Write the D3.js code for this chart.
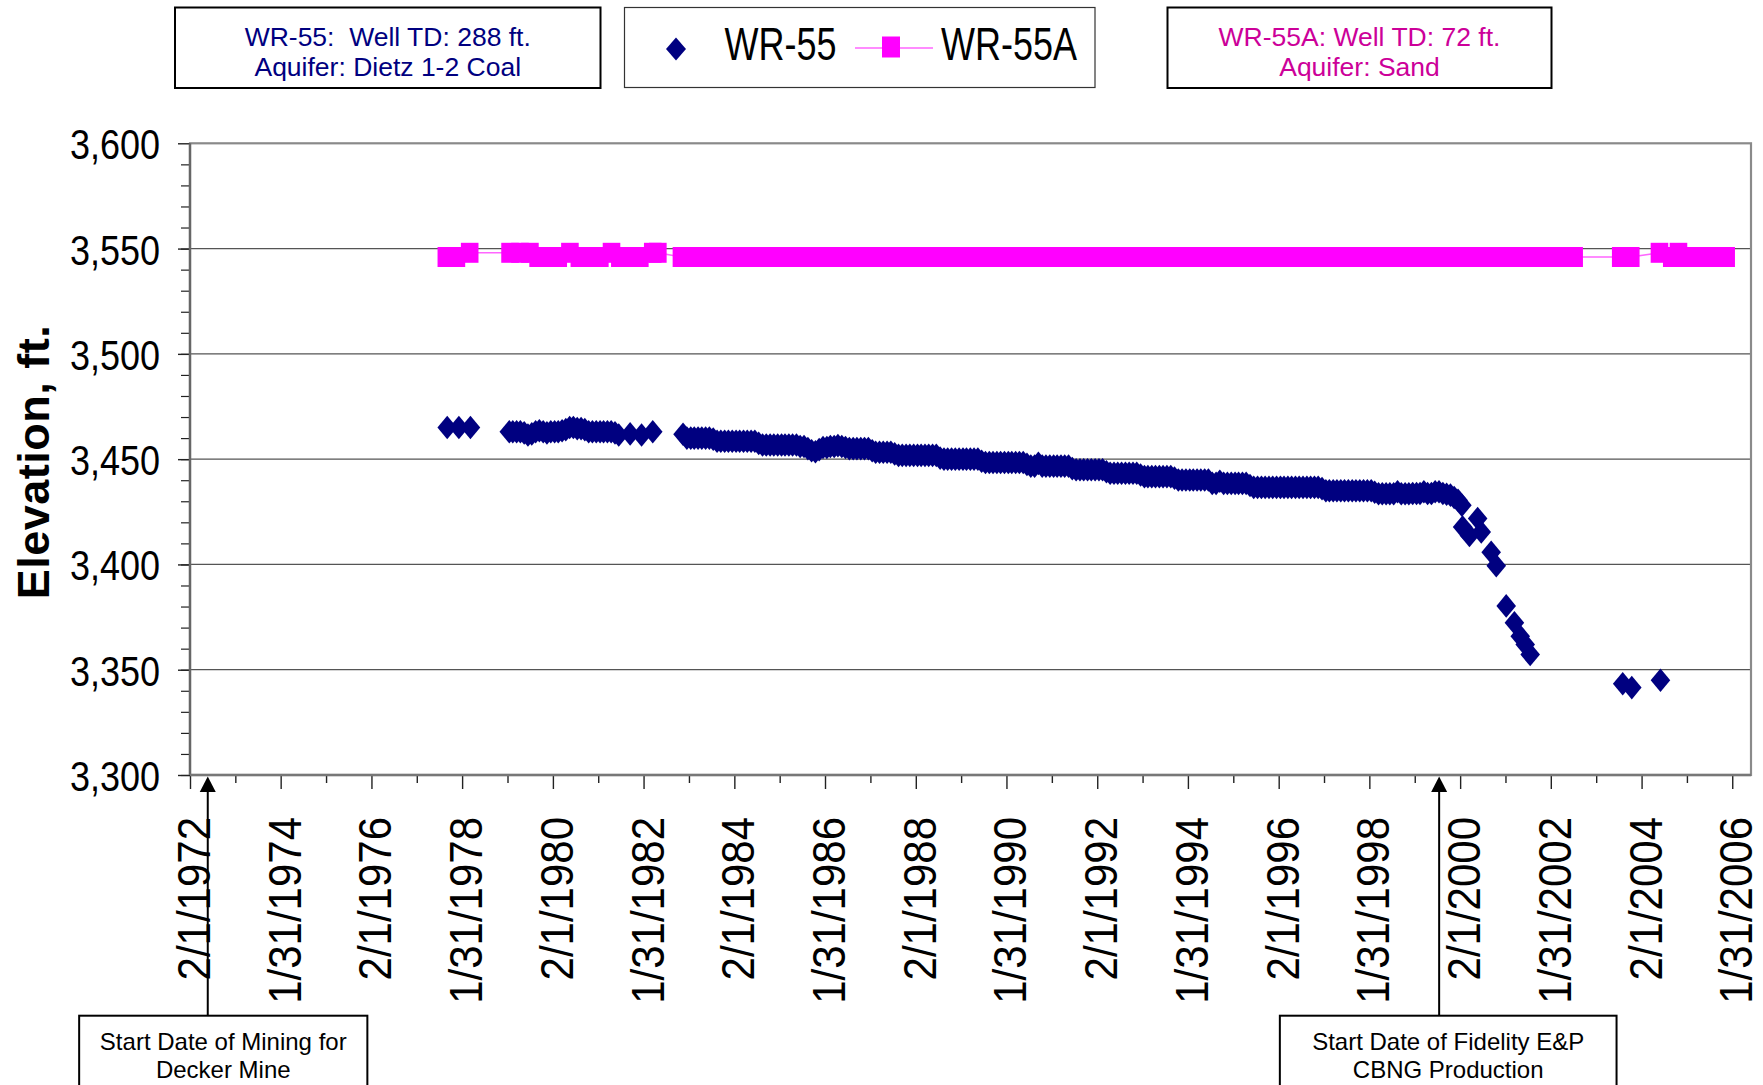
<!DOCTYPE html>
<html>
<head>
<meta charset="utf-8">
<script src="https://cdn.jsdelivr.net/npm/d3@7"></script>
<style>
  body { margin: 0; background: #fff; }
  svg { display: block; font-family: "Liberation Sans", Arial, sans-serif; }
</style>
</head>
<body>
<div id="well-chart"></div>
<script>
// date axis: Excel bounds and major tick labels (730.5 day steps)
var dateBounds = ["2/1/1972", "7/1/2006"];
var dateTickLabels = ["2/1/1972", "1/31/1974", "2/1/1976", "1/31/1978", "2/1/1980", "1/31/1982",
    "2/1/1984", "1/31/1986", "2/1/1988", "1/31/1990", "2/1/1992", "1/31/1994",
    "2/1/1996", "1/31/1998", "2/1/2000", "1/31/2002", "2/1/2004", "1/31/2006"];

// elevation axis
var elevTicks = [3300, 3350, 3400, 3450, 3500, 3550, 3600];
var elevBounds = [3300, 3600];

var seriesNames = ["WR-55", "WR-55A"];

// WR-55 monthly readings, Jan..Dec (null = no reading)
var wr55Monthly = [
    [1979, [null, 3463, 3463, 3463, 3463, 3462.5, 3461.5, 3462, 3463, 3463.5, 3463, 3462.5]],
    [1980, [3463, 3463, 3463, 3463.5, 3464, 3465, 3465, 3464.5, 3464.5, 3464, 3463, 3463]],
    [1981, [3463, 3463, 3463, 3463, 3463, 3462.5, 3461.5, null, null, 3462, null, null]],
    [1982, [3461.5, null, null, 3463, null, null, null, null, null, null, null, 3461.8]],
    [1983, [3460, 3460, 3460, 3460, 3460, 3460, 3460, 3459.5, 3458.5, 3458.5, 3458.5, 3458.5]],
    [1984, [3458.5, 3458.5, 3458.5, 3458.5, 3458.5, 3458.5, 3458.5, 3457.5, 3456.7, 3456.7, 3456.7, 3456.7]],
    [1985, [3456.7, 3456.7, 3456.7, 3456.7, 3456.7, 3456.7, 3456, 3456, 3455, 3454, 3453.5, 3454.5]],
    [1986, [3455.5, 3455.5, 3456, 3456, 3456.4, 3456, 3455.5, 3455, 3455, 3455, 3455, 3455]],
    [1987, [3455, 3454, 3453.3, 3453.3, 3453.3, 3453.3, 3453.3, 3452.5, 3451.8, 3451.8, 3451.8, 3451.8]],
    [1988, [3451.8, 3451.8, 3451.8, 3451.8, 3451.8, 3451.8, 3451.8, 3450.5, 3450, 3450, 3450, 3450]],
    [1989, [3450, 3450, 3450, 3450, 3450, 3450, 3449, 3448.4, 3448.4, 3448.4, 3448.4, 3448.4]],
    [1990, [3448.4, 3448.4, 3448.4, 3448.4, 3448.4, 3448.4, 3447.5, 3446.7, 3446.7, 3448, 3446.7, 3446.7]],
    [1991, [3446.7, 3446.7, 3446.7, 3446.7, 3446.7, 3446.7, 3445.5, 3445, 3445, 3445, 3445, 3445]],
    [1992, [3445, 3445, 3445, 3444, 3443.3, 3443.3, 3443.3, 3443.3, 3443.3, 3443.3, 3443.3, 3443.3]],
    [1993, [3442.5, 3441.7, 3441.7, 3441.7, 3441.7, 3441.7, 3441.7, 3441.7, 3441.7, 3441, 3440.1, 3440.1]],
    [1994, [3440.1, 3440.1, 3440.1, 3440.1, 3440.1, 3440.1, 3440.1, 3438.5, 3438.5, 3439.5, 3438.5, 3438.5]],
    [1995, [3438.5, 3438.5, 3438.5, 3438.5, 3438.5, 3437.5, 3436.6, 3436.6, 3436.6, 3436.6, 3436.6, 3436.6]],
    [1996, [3436.6, 3436.6, 3436.6, 3436.6, 3436.6, 3436.6, 3436.6, 3436.6, 3436.6, 3436.6, 3436.6, 3436.6]],
    [1997, [3436, 3435, 3435, 3435, 3435, 3435, 3435, 3435, 3435, 3435, 3435, 3435]],
    [1998, [3435, 3435, 3434.3, 3433.6, 3433.6, 3433.6, 3433.6, 3433.6, 3434.5, 3433.6, 3433.6, 3433.6]],
    [1999, [3433.7, 3433.7, 3433.7, 3434.5, 3433.7, 3433.7, 3434.5, 3434.5, 3433.7, 3433.3, 3432.9, 3431.8]],
    [2000, [3430.5, 3428.1, null, null, null, null, null, null, null, null, null, null]]
];

// WR-55 irregular readings (date, elevation ft)
var wr55Spot = [
    ["1977-10-03", 3465], ["1978-01-05", 3465], ["1978-04-08", 3465],
    ["2000-02-21", 3417.8], ["2000-04-16", 3413.8], ["2000-06-21", 3421.8], ["2000-07-20", 3415.4],
    ["2000-10-08", 3405.8], ["2000-11-18", 3399.4], ["2001-02-06", 3380.3], ["2001-04-13", 3372.3],
    ["2001-05-30", 3365.9], ["2001-07-09", 3362], ["2001-08-18", 3357.2],
    ["2003-09-02", 3343.3], ["2003-11-14", 3341.5], ["2004-07-02", 3345]
];

// WR-55A water level readings (date, elevation ft)
var wr55aReadings = [
    ["1977-09-26", 3546], ["1977-12-16", 3546], ["1978-04-02", 3548],
    ["1979-02-21", 3548], ["1979-05-12", 3548], ["1979-07-31", 3548], ["1979-10-05", 3546],
    ["1979-12-24", 3546], ["1980-03-15", 3546], ["1980-06-17", 3548], ["1980-09-01", 3546],
    ["1980-11-24", 3546], ["1981-02-13", 3546], ["1981-05-18", 3548], ["1981-07-24", 3546],
    ["1981-10-12", 3546], ["1982-01-01", 3546], ["1982-04-15", 3548], ["1982-05-26", 3548],
    ["1982-12-02", 3546], ["1983-03-01", 3546], ["1983-06-01", 3546], ["1983-09-01", 3546],
    ["1983-12-01", 3546], ["1984-03-01", 3546], ["1984-06-01", 3546], ["1984-09-01", 3546],
    ["1984-12-01", 3546], ["1985-03-01", 3546], ["1985-06-01", 3546], ["1985-09-01", 3546],
    ["1985-12-01", 3546], ["1986-03-01", 3546], ["1986-06-01", 3546], ["1986-09-01", 3546],
    ["1986-12-01", 3546], ["1987-03-01", 3546], ["1987-06-01", 3546], ["1987-09-01", 3546],
    ["1987-12-01", 3546], ["1988-03-01", 3546], ["1988-06-01", 3546], ["1988-09-01", 3546],
    ["1988-12-01", 3546], ["1989-03-01", 3546], ["1989-06-01", 3546], ["1989-09-01", 3546],
    ["1989-12-01", 3546], ["1990-03-01", 3546], ["1990-06-01", 3546], ["1990-09-01", 3546],
    ["1990-12-01", 3546], ["1991-03-01", 3546], ["1991-06-01", 3546], ["1991-09-01", 3546],
    ["1991-12-01", 3546], ["1992-03-01", 3546], ["1992-06-01", 3546], ["1992-09-01", 3546],
    ["1992-12-01", 3546], ["1993-03-01", 3546], ["1993-06-01", 3546], ["1993-09-01", 3546],
    ["1993-12-01", 3546], ["1994-03-01", 3546], ["1994-06-01", 3546], ["1994-09-01", 3546],
    ["1994-12-01", 3546], ["1995-03-01", 3546], ["1995-06-01", 3546], ["1995-09-01", 3546],
    ["1995-12-01", 3546], ["1996-03-01", 3546], ["1996-06-01", 3546], ["1996-09-01", 3546],
    ["1996-12-01", 3546], ["1997-03-01", 3546], ["1997-06-01", 3546], ["1997-09-01", 3546],
    ["1997-12-01", 3546], ["1998-03-01", 3546], ["1998-06-01", 3546], ["1998-09-01", 3546],
    ["1998-12-01", 3546], ["1999-03-01", 3546], ["1999-06-01", 3546], ["1999-09-01", 3546],
    ["1999-12-01", 3546], ["2000-03-01", 3546], ["2000-06-01", 3546], ["2000-09-01", 3546],
    ["2000-12-01", 3546], ["2001-03-01", 3546], ["2001-06-01", 3546], ["2001-09-01", 3546],
    ["2001-12-01", 3546], ["2002-03-01", 3546], ["2002-06-01", 3546], ["2002-08-07", 3546],
    ["2003-08-17", 3546], ["2003-11-06", 3546], ["2004-06-24", 3548], ["2004-10-01", 3546],
    ["2004-11-24", 3548], ["2005-01-15", 3546], ["2005-04-01", 3546], ["2005-06-15", 3546],
    ["2005-09-01", 3546], ["2005-11-15", 3546], ["2005-12-13", 3546]
];

// well notes shown above the plot
var wr55Note = ["WR-55:  Well TD: 288 ft.", "Aquifer: Dietz 1-2 Coal"];
var wr55aNote = ["WR-55A: Well TD: 72 ft.", "Aquifer: Sand"];

// event arrows below the date axis
var eventDates = ["6/23/1972", "8/16/1999"];
var eventLabels = [["Start Date of Mining for", "Decker Mine"],
                   ["Start Date of Fidelity E&P", "CBNG Production"]];


function WellChart()
{
    var self = this;
    self.init();
}

WellChart.prototype.init = function()
{
    var self = this;
    self.plot = {left: 190, right: 1751, top: 143.3, bottom: 775};

    self.svg = d3.select("#well-chart").append("svg")
        .attr("width", 1763)
        .attr("height", 1085);

    self.svg.append("rect")
        .attr("width", 1763).attr("height", 1085)
        .attr("fill", "#fff");
};

WellChart.prototype.update = function()
{
    var self = this;
    var p = self.plot;
    var parseTick = d3.timeParse("%m/%d/%Y"),
        parseDay = d3.timeParse("%Y-%m-%d");

    var x = d3.scaleTime()
        .domain(dateBounds.map(parseTick))
        .range([p.left, p.right]);

    var y = d3.scaleLinear()
        .domain(elevBounds)
        .range([p.bottom, p.top]);

    // monthly rows -> readings on the 15th
    var wr55 = [];
    wr55Monthly.forEach(function(row) {
        row[1].forEach(function(v, m) {
            if (v !== null) wr55.push({date: new Date(row[0], m, 15), elev: v});
        });
    });
    wr55Spot.forEach(function(d) { wr55.push({date: parseDay(d[0]), elev: d[1]}); });
    wr55.sort(function(a, b) { return a.date - b.date; });

    var wr55a = wr55aReadings.map(function(d) { return {date: parseDay(d[0]), elev: d[1]}; });

    // horizontal gridlines
    self.svg.append("g").selectAll("line")
        .data(elevTicks.slice(1, -1))
        .enter().append("line")
        .attr("x1", p.left).attr("x2", p.right)
        .attr("y1", function(d) { return y(d); })
        .attr("y2", function(d) { return y(d); })
        .attr("stroke", "#555")
        .attr("stroke-width", 1.2);

    // plot frame
    self.svg.append("rect")
        .attr("x", p.left).attr("y", p.top)
        .attr("width", p.right - p.left).attr("height", p.bottom - p.top)
        .attr("fill", "none")
        .attr("stroke", "#8a8a8a")
        .attr("stroke-width", 2.2);

    // y axis
    var yAxis = d3.axisLeft(y).tickValues(elevTicks).tickSize(12).tickPadding(18)
        .tickFormat(d3.format(","));
    var yAxisG = self.svg.append("g")
        .attr("transform", "translate(" + p.left + ",0)")
        .call(yAxis);
    yAxisG.select(".domain").remove();
    yAxisG.selectAll("line").attr("stroke", "#222").attr("stroke-width", 1.4);
    yAxisG.selectAll("text")
        .attr("dy", "0.36em")
        .attr("transform", "scale(1,1.2)")
        .style("font-family", "'Liberation Sans', Arial, sans-serif")
        .style("font-size", "36px")
        .attr("fill", "#000");

    var yMinor = d3.axisLeft(y).tickValues(d3.range(elevBounds[0], elevBounds[1], 10)).tickSize(9).tickFormat("");
    var yMinorG = self.svg.append("g")
        .attr("transform", "translate(" + p.left + ",0)")
        .call(yMinor);
    yMinorG.select(".domain").remove();
    yMinorG.selectAll("line").attr("stroke", "#222").attr("stroke-width", 1.2);

    // x axis
    var tickDates = dateTickLabels.map(parseTick);
    var xAxis = d3.axisBottom(x).tickValues(tickDates).tickSize(14).tickPadding(0)
        .tickFormat(function(d, i) { return dateTickLabels[i]; });
    var xAxisG = self.svg.append("g")
        .attr("transform", "translate(0," + p.bottom + ")")
        .call(xAxis);
    xAxisG.select(".domain").remove();
    xAxisG.selectAll("line").attr("stroke", "#222").attr("stroke-width", 1.4);
    xAxisG.selectAll("text")
        .attr("x", 0).attr("y", 0)
        .attr("dy", "0.36em")
        .attr("transform", "translate(2.5,42) rotate(-90) scale(1,1.12)")
        .style("text-anchor", "end")
        .style("font-family", "'Liberation Sans', Arial, sans-serif")
        .style("font-size", "42px")
        .attr("fill", "#000");

    var minorDates = d3.pairs(tickDates).map(function(pr) { return new Date((+pr[0] + +pr[1]) / 2); });
    var xMinorG = self.svg.append("g")
        .attr("transform", "translate(0," + p.bottom + ")")
        .call(d3.axisBottom(x).tickValues(minorDates).tickSize(8).tickFormat(""));
    xMinorG.select(".domain").remove();
    xMinorG.selectAll("line").attr("stroke", "#222").attr("stroke-width", 1.4);

    // axis lines
    self.svg.append("line")
        .attr("x1", p.left).attr("x2", p.left).attr("y1", p.top).attr("y2", p.bottom)
        .attr("stroke", "#666").attr("stroke-width", 2.4);
    self.svg.append("line")
        .attr("x1", p.left).attr("x2", p.right).attr("y1", p.bottom).attr("y2", p.bottom)
        .attr("stroke", "#777").attr("stroke-width", 2.6);

    // y title
    self.svg.append("text")
        .attr("transform", "translate(49,462) rotate(-90)")
        .style("text-anchor", "middle")
        .style("font-size", "45px")
        .style("font-weight", "bold")
        .style("letter-spacing", "0.5px")
        .text("Elevation, ft.");

    // WR-55A line and markers
    var valueLine = d3.line()
        .x(function(d) { return x(d.date); })
        .y(function(d) { return y(d.elev); });

    self.svg.append("path")
        .attr("d", valueLine(wr55a))
        .attr("fill", "none")
        .attr("stroke", "#ff66ff")
        .attr("stroke-width", 1.6);

    var squarePath = "M-8.8,-10H8.8V10H-8.8Z",
        diamondPath = "M0,-11.8L9.8,0L0,11.8L-9.8,0Z";

    self.svg.append("g").selectAll("path")
        .data(wr55a)
        .enter().append("path")
        .attr("d", squarePath)
        .attr("transform", function(d) { return "translate(" + x(d.date) + "," + y(d.elev) + ")"; })
        .attr("fill", "#ff00ff");

    self.svg.append("g").selectAll("path")
        .data(wr55)
        .enter().append("path")
        .attr("d", diamondPath)
        .attr("transform", function(d) { return "translate(" + x(d.date) + "," + y(d.elev) + ")"; })
        .attr("fill", "#000080");

    // note boxes above plot
    function noteBox(x0, x1, lines, color) {
        self.svg.append("rect")
            .attr("x", x0).attr("y", 7.5)
            .attr("width", x1 - x0).attr("height", 80.5)
            .attr("fill", "#fff")
            .attr("stroke", "#000")
            .attr("stroke-width", 2);
        self.svg.append("g").selectAll("text")
            .data(lines)
            .enter().append("text")
            .attr("x", (x0 + x1) / 2)
            .attr("y", function(d, i) { return 45.5 + i * 30; })
            .style("text-anchor", "middle")
            .style("white-space", "pre")
            .style("font-size", "26.5px")
            .attr("fill", color)
            .text(function(d) { return d; });
    }
    noteBox(175, 600.5, wr55Note, "#000080");
    noteBox(1167.5, 1551.5, wr55aNote, "#cc0099");

    // legend
    var legend = self.svg.append("g").attr("class", "legend");
    legend.append("rect")
        .attr("x", 624.5).attr("y", 7.5)
        .attr("width", 470.5).attr("height", 80)
        .attr("fill", "#fff")
        .attr("stroke", "#333")
        .attr("stroke-width", 1.2);
    legend.append("path")
        .attr("d", "M0,-11.5L10,0L0,11.5L-10,0Z")
        .attr("transform", "translate(676,49)")
        .attr("fill", "#000080");
    legend.append("line")
        .attr("x1", 855).attr("x2", 933).attr("y1", 48).attr("y2", 48)
        .attr("stroke", "#ff66ff").attr("stroke-width", 1.6);
    legend.append("path")
        .attr("d", "M-9,-10.5H9V10.5H-9Z")
        .attr("transform", "translate(891,47)")
        .attr("fill", "#ff00ff");
    legend.selectAll("text.series")
        .data(seriesNames)
        .enter().append("text")
        .attr("class", "series")
        .attr("transform", function(d, i) { return "translate(" + [724.5, 941][i] + ",60) scale(1,1.3)"; })
        .style("font-size", "36px")
        .attr("fill", "#000")
        .text(function(d) { return d; });

    // event arrows and boxes
    var boxes = [{dx: -128.6, w: 288.2}, {dx: -159.3, w: 336.7}];
    eventDates.forEach(function(s, i) {
        var ax = x(parseTick(s));
        var g = self.svg.append("g");
        g.append("line")
            .attr("x1", ax).attr("x2", ax).attr("y1", 1015.7).attr("y2", 790)
            .attr("stroke", "#000").attr("stroke-width", 2);
        g.append("path")
            .attr("d", "M" + ax + ",776.5L" + (ax - 8) + ",792L" + (ax + 8) + ",792Z")
            .attr("fill", "#000");
        g.append("rect")
            .attr("x", ax + boxes[i].dx).attr("y", 1015.7)
            .attr("width", boxes[i].w).attr("height", 100)
            .attr("fill", "#fff")
            .attr("stroke", "#000")
            .attr("stroke-width", 2);
        g.selectAll("text")
            .data(eventLabels[i])
            .enter().append("text")
            .attr("x", ax + boxes[i].dx + boxes[i].w / 2)
            .attr("y", function(d, j) { return 1050 + j * 28; })
            .style("text-anchor", "middle")
            .style("font-size", "24px")
            .attr("fill", "#000")
            .text(function(d) { return d; });
    });
};

var chart = new WellChart();
chart.update();
</script>
</body>
</html>
